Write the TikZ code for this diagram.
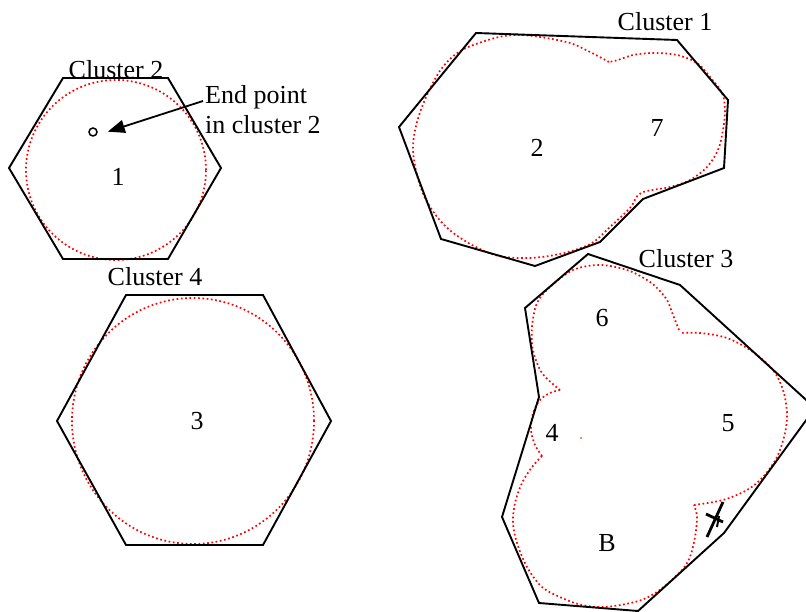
\documentclass[tikz,border=0pt]{standalone}
\usepackage{fontspec}
\setmainfont{Liberation Serif}
\usetikzlibrary{arrows.meta}
\begin{document}
\begin{tikzpicture}[x=1pt,y=-1pt,
  hull/.style={draw=black,line width=1.9pt,line join=miter},
  blob/.style={draw=red,line width=1.7pt,dash pattern=on 1.7pt off 2.6pt},
  lbl/.style={font=\fontsize{26}{30}\selectfont,inner sep=0pt},
  cutmark/.style={draw=black,line width=2.8pt}]
\useasboundingbox (0,0) rectangle (806,612);

% ---- red dotted outlines ----
\draw[blob] (116,170) circle [radius=90pt];
\draw[blob] (193,421) circle [x radius=121pt, y radius=123pt];
\draw[blob,smooth,tension=0.55] plot coordinates {(609,62) (590,52) (570,43) (540,37) (517,35) (495,38) (462,50) (442,68) (427,95) (417,122) (413,148) (417,175) (425,198) (438,218) (452,232) (472,245) (495,255) (518,258) (542,257) (568,252) (592,243) (610,227) (630,208) (641,193) (670,187) (690,180) (707,167) (718,150) (723,130) (725,110) (722,93) (710,77) (697,63) (677,55) (653,53) (633,55) (618,60) (609,62)};
% cluster 3 lobes
\draw[blob,smooth,tension=0.55] plot coordinates {(679,330) (673,315) (667,300) (657,288) (647,280) (627,270) (600,265) (573,270) (550,287) (537,303) (532,327) (533,350) (542,373) (560,390)};
\draw[blob,smooth,tension=0.55] plot coordinates {(560,390) (550,393) (540,400) (533,413) (531,430) (535,445) (542,456)};
\draw[blob,smooth,tension=0.55] plot coordinates {(542,456) (532,467) (522,483) (515,503) (513,523) (517,543) (527,567) (542,587) (562,598) (582,605) (605,607) (635,602) (652,595) (666,585) (682,570) (690,557) (695,537) (697,517) (694,505)};
\draw[blob,smooth,tension=0.55] plot coordinates {(694,505) (723,500) (747,490) (763,477) (777,457) (785,433) (787,413) (783,390) (773,370) (753,352) (727,338) (700,333) (680,333)};
\fill[red] (581,438) circle [radius=0.9pt];

% ---- hulls ----
\draw[hull] (63,78) -- (168,78) -- (221,168) -- (168,259) -- (63,259) -- (9,168) -- cycle;
\draw[hull] (126,295) -- (263,295) -- (331,421) -- (263,545) -- (126,545) -- (57,421) -- cycle;
\draw[hull] (476,33) -- (677,40) -- (728,100) -- (724,168) -- (643,199) -- (600,242) -- (535,266) -- (441,239) -- (399,127) -- cycle;
\draw[hull] (588,254) -- (680,285) -- (815,408) -- (724,533) -- (638,611) -- (539,603) -- (502,517) -- (539,397) -- (525,308) -- cycle;

% cut mark
\draw[cutmark] (707,537) -- (723,502);
\draw[cutmark] (706,514) -- (723,522);
\draw[cutmark,line width=2pt] (719,516) -- (717,527);

% ---- labels ----
\node[lbl] (c2) at (116,70) {Cluster 2};
\node[lbl] (c4) at (155,277) {Cluster 4};
\node[lbl] (c1) at (665,22) {Cluster 1};
\node[lbl] (c3) at (686,259) {Cluster 3};
\node[lbl] (n1) at (118,177) {1};
\node[lbl] (n3) at (197,421) {3};
\node[lbl] (n2) at (537,148) {2};
\node[lbl] (n7) at (657,128) {7};
\node[lbl] (n6) at (602,318) {6};
\node[lbl] (n5) at (728,423) {5};
\node[lbl] (n4) at (552,433) {4};
\node[lbl] (nB) at (607,543) {B};

\node[lbl,anchor=north west,align=left] (eptext) at (205,85) {End point\\in cluster 2};
\node[draw,circle,line width=1.5pt,minimum size=8pt,inner sep=0pt] (ep) at (93,132) {};
\coordinate (arrowstart) at (203,101);
\draw[line width=1.8pt,-{Triangle[length=17pt,width=13pt]},shorten >=12pt] (arrowstart) -- (ep.south east);
\end{tikzpicture}
\end{document}
